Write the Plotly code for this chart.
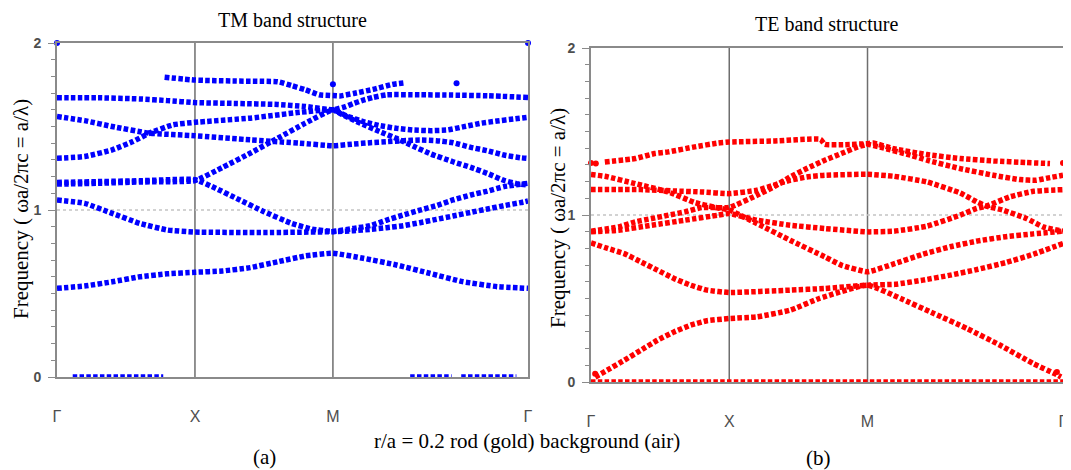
import plotly.graph_objects as go

# ---------------- k-path ----------------
KPATH_T = [0, 1, 2, 3.414]
KPATH_LABELS = ['Γ', 'X', 'M', 'Γ']

# ---------------- TM bands (left, blue) ----------------
tm_G_t = [0, 0.2, 0.4, 0.6, 0.8, 1.0, 1.2, 1.4, 1.6, 1.8, 2.0, 2.22, 2.46, 2.70, 2.94, 3.19, 3.414]
tm_G_f = [0.531, 0.545, 0.57, 0.60, 0.618, 0.627, 0.635, 0.655, 0.69, 0.725, 0.741, 0.711, 0.671, 0.621, 0.571, 0.541, 0.531]

tm_F_t = [0, 0.2, 0.4, 0.6, 0.8, 1.0, 1.5, 2.0, 2.15, 2.27, 2.39, 2.51, 2.63, 2.75, 2.87, 3.0, 3.12, 3.24, 3.36, 3.414]
tm_F_f = [1.06, 1.04, 0.98, 0.92, 0.88, 0.868, 0.865, 0.87, 0.876, 0.884, 0.894, 0.906, 0.924, 0.944, 0.964, 0.986, 1.006, 1.026, 1.044, 1.054]

tm_E2_t = [0, 0.3, 0.6, 1.0, 1.15, 1.3, 1.5, 1.7, 1.85, 2.0, 2.15, 2.27, 2.39, 2.51, 2.63, 2.75, 2.87, 3.0, 3.12, 3.24, 3.414]
tm_E2_f = [1.165, 1.17, 1.175, 1.182, 1.13, 1.07, 0.99, 0.92, 0.885, 0.872, 0.89, 0.906, 0.94, 0.97, 0.999, 1.026, 1.06, 1.09, 1.113, 1.14, 1.16]

tm_E1_t = [0, 0.3, 0.6, 1.0, 1.2, 1.4, 1.6, 1.8, 2.0, 2.05, 2.2, 2.34, 2.46, 2.58, 2.71, 2.87, 3.0, 3.12, 3.24, 3.33, 3.414]
tm_E1_f = [1.155, 1.16, 1.168, 1.176, 1.255, 1.34, 1.43, 1.52, 1.60, 1.579, 1.519, 1.469, 1.429, 1.383, 1.335, 1.289, 1.255, 1.219, 1.177, 1.158, 1.15]

tm_D_t = [0, 0.2, 0.4, 0.55, 0.67, 0.84, 1.0, 1.4, 1.76, 2.0, 2.1, 2.22, 2.34, 2.46, 2.58, 2.71, 2.83, 2.95, 3.07, 3.19, 3.31, 3.414]
tm_D_f = [1.31, 1.32, 1.36, 1.41, 1.46, 1.51, 1.525, 1.55, 1.585, 1.60, 1.563, 1.529, 1.505, 1.489, 1.479, 1.475, 1.479, 1.499, 1.519, 1.533, 1.545, 1.555]

tm_C_t = [0, 0.2, 0.4, 0.67, 1.0, 1.4, 1.76, 2.0, 2.15, 2.27, 2.39, 2.51, 2.63, 2.75, 2.87, 3.0, 3.12, 3.24, 3.36, 3.414]
tm_C_f = [1.56, 1.535, 1.50, 1.46, 1.445, 1.42, 1.40, 1.385, 1.395, 1.403, 1.409, 1.415, 1.419, 1.415, 1.403, 1.375, 1.355, 1.329, 1.313, 1.309]

tm_B_t = [0, 0.3, 0.6, 0.8, 1.0, 1.3, 1.6, 1.8, 2.0, 2.09, 2.15, 2.22, 2.29, 2.39, 2.63, 2.87, 3.12, 3.414]
tm_B_f = [1.672, 1.672, 1.665, 1.655, 1.643, 1.638, 1.632, 1.62, 1.60, 1.619, 1.638, 1.658, 1.674, 1.69, 1.69, 1.688, 1.684, 1.674]

tm_A_t = [0.78, 1.0, 1.3, 1.6, 1.7, 1.8, 1.9, 2.0, 2.05, 2.15, 2.29, 2.43, 2.52]
tm_A_f = [1.795, 1.778, 1.772, 1.768, 1.745, 1.72, 1.69, 1.685, 1.683, 1.698, 1.722, 1.752, 1.762]

tm_zero_segments = [(0.114, 0.77), (2.56, 2.86), (2.93, 3.33)]
tm_dots_t = [0, 3.414, 2.0, 2.896]
tm_dots_f = [2.0, 2.0, 1.753, 1.759]

# ---------------- TE bands (right, red) ----------------
te_T1_t = [0.1, 0.32, 0.46, 0.56, 0.75, 0.92, 1.0, 1.32, 1.66, 1.69, 1.83, 2.0, 2.04, 2.19, 2.43, 2.67, 2.91, 3.15, 3.32]
te_T1_f = [1.318, 1.338, 1.368, 1.378, 1.408, 1.431, 1.437, 1.443, 1.453, 1.423, 1.421, 1.427, 1.431, 1.397, 1.362, 1.338, 1.324, 1.314, 1.308]

te_T2_t = [0, 0.1, 0.32, 0.56, 0.75, 0.9, 1.0, 1.2, 1.44, 1.69, 1.81, 2.0, 2.2, 2.4, 2.6, 2.8, 3.0, 3.2, 3.414]
te_T2_f = [1.242, 1.232, 1.188, 1.138, 1.075, 1.045, 1.03, 0.949, 0.849, 0.75, 0.70, 0.66, 0.71, 0.765, 0.81, 0.845, 0.87, 0.887, 0.903]

te_T3_t = [0, 0.36, 0.6, 0.8, 1.0, 1.2, 1.32, 1.44, 1.56, 1.69, 2.0, 2.19, 2.43, 2.67, 2.79, 2.86, 2.98, 3.15, 3.27, 3.414]
te_T3_f = [1.152, 1.152, 1.144, 1.138, 1.128, 1.148, 1.178, 1.208, 1.228, 1.238, 1.244, 1.232, 1.198, 1.132, 1.079, 1.053, 1.029, 0.979, 0.929, 0.903]

te_A_t = [0, 0.2, 0.32, 0.44, 0.56, 0.68, 0.8, 1.0, 1.2, 1.32, 1.44, 1.56, 1.69, 1.81, 1.93, 2.0, 2.09, 2.31, 2.43, 2.67, 2.91, 3.10, 3.22, 3.32, 3.414]
te_A_f = [0.903, 0.929, 0.959, 0.979, 0.999, 1.019, 1.045, 1.045, 1.118, 1.168, 1.228, 1.278, 1.328, 1.368, 1.408, 1.423, 1.407, 1.358, 1.328, 1.278, 1.238, 1.212, 1.208, 1.224, 1.238]

te_B_t = [0, 0.2, 0.44, 0.68, 0.92, 1.0, 1.2, 1.44, 1.69, 2.0, 2.19, 2.43, 2.67, 2.79, 2.86, 3.03, 3.20, 3.414]
te_B_f = [0.899, 0.909, 0.939, 0.969, 0.999, 1.009, 0.969, 0.939, 0.919, 0.899, 0.903, 0.933, 0.999, 1.039, 1.053, 1.109, 1.142, 1.152]

te_b1_t = [0, 0.12, 0.24, 0.36, 0.48, 0.60, 0.72, 0.84, 1.0, 1.44, 1.69, 2.0, 2.2, 2.4, 2.6, 2.8, 3.0, 3.2, 3.414]
te_b1_f = [0.833, 0.80, 0.769, 0.72, 0.67, 0.62, 0.58, 0.55, 0.536, 0.55, 0.56, 0.58, 0.585, 0.61, 0.64, 0.675, 0.715, 0.765, 0.829]

te_ac_t = [0.03, 0.12, 0.24, 0.36, 0.48, 0.60, 0.72, 0.84, 1.0, 1.2, 1.44, 1.65, 2.0, 2.24, 2.48, 2.72, 2.96, 3.20, 3.35, 3.40]
te_ac_f = [0.03, 0.072, 0.13, 0.19, 0.25, 0.30, 0.34, 0.367, 0.38, 0.39, 0.43, 0.50, 0.58, 0.50, 0.41, 0.32, 0.22, 0.11, 0.052, 0.03]

te_zero_segments = [(0.0, 3.414)]
te_dots_t = [0, 0.035, 3.414, 0.03, 3.37]
te_dots_f = [1.312, 1.308, 1.312, 0.05, 0.06]

BLUE = 'rgb(0,0,255)'
RED = 'rgb(255,0,0)'
DASH = '4.5px,2.3px'

fig = go.Figure()


def add_band(t, f, color, xa, ya):
    fig.add_trace(go.Scatter(
        x=t, y=f, mode='lines', xaxis=xa, yaxis=ya, cliponaxis=False,
        line=dict(color=color, width=5.5, dash=DASH, shape='spline', smoothing=0.4),
        showlegend=False, hoverinfo='skip'))


def add_dots(t, f, color, xa, ya):
    fig.add_trace(go.Scatter(
        x=t, y=f, mode='markers', xaxis=xa, yaxis=ya, cliponaxis=False,
        marker=dict(color=color, size=6, line=dict(width=0)),
        showlegend=False, hoverinfo='skip'))


for t, f in [(tm_G_t, tm_G_f), (tm_F_t, tm_F_f), (tm_E2_t, tm_E2_f), (tm_E1_t, tm_E1_f),
             (tm_D_t, tm_D_f), (tm_C_t, tm_C_f), (tm_B_t, tm_B_f), (tm_A_t, tm_A_f)]:
    add_band(t, f, BLUE, 'x', 'y')
for a, b in tm_zero_segments:
    add_band([a, b], [0, 0], BLUE, 'x', 'y')
add_dots(tm_dots_t, tm_dots_f, BLUE, 'x', 'y')

for t, f in [(te_T1_t, te_T1_f), (te_T2_t, te_T2_f), (te_T3_t, te_T3_f), (te_A_t, te_A_f),
             (te_B_t, te_B_f), (te_b1_t, te_b1_f), (te_ac_t, te_ac_f)]:
    add_band(t, f, RED, 'x2', 'y2')
for a, b in te_zero_segments:
    add_band([a, b], [0, 0], RED, 'x2', 'y2')
add_dots(te_dots_t, te_dots_f, RED, 'x2', 'y2')

# page body has an 8px default margin: the figure is sized/positioned to compensate
OFF = 8
W, H = 1071 - OFF, 470 - OFF
FRAME = '#8a8a8a'
TICKCOL = '#4e4e4e'


def px(xp):
    return (xp - OFF) / W


def py(yp):
    return (H - (yp - OFF)) / H


def xaxis_cfg(x0, x1, anchor):
    return dict(domain=[px(x0), px(x1)], anchor=anchor, range=[0, KPATH_T[-1]],
                automargin=False,
                showgrid=False, zeroline=False, showline=True, mirror=True,
                linecolor=FRAME, linewidth=2, tickmode='array', tickvals=KPATH_T,
                ticktext=KPATH_LABELS, ticks='', ticklabelstandoff=24,
                ticklabeloverflow='allow',
                tickfont=dict(family='Liberation Sans, Arial', size=16, color=TICKCOL),
                fixedrange=True)


def yaxis_cfg(ytop, ybot, anchor):
    return dict(domain=[py(ybot), py(ytop)], anchor=anchor, range=[0, 2],
                automargin=False,
                showgrid=False, zeroline=False, showline=True, mirror=True,
                linecolor=FRAME, linewidth=2, tickmode='array', tickvals=[0, 1, 2],
                ticks='outside', ticklen=7, tickcolor=FRAME, tickwidth=1,
                minor=dict(dtick=0.1, ticks='outside', ticklen=4, tickcolor=FRAME, tickwidth=1),
                ticklabelstandoff=4,
                tickfont=dict(family='Liberation Sans, Arial', size=14, color=TICKCOL, weight='bold'),
                fixedrange=True)


fig.update_layout(
    width=W, height=H, margin=dict(l=0, r=0, t=0, b=0, autoexpand=False),
    paper_bgcolor='white', plot_bgcolor='white',
    xaxis=xaxis_cfg(57, 528, 'y'), yaxis=yaxis_cfg(43, 377, 'x'),
    xaxis2=xaxis_cfg(591, 1063, 'y2'), yaxis2=yaxis_cfg(48, 382, 'x2'),
)

shapes = []
for xr, yr in [('x', 'y'), ('x2', 'y2')]:
    for kx in KPATH_T[1:3]:
        shapes.append(dict(type='line', xref=xr, yref=yr, x0=kx, x1=kx, y0=0, y1=2,
                           line=dict(color='#6e6e6e', width=1.5), layer='below'))
    shapes.append(dict(type='line', xref=xr, yref=yr, x0=0, x1=KPATH_T[-1], y0=1, y1=1,
                       line=dict(color='#c4c4c4', width=1.5, dash='dot'), layer='below'))
fig.update_layout(shapes=shapes)

SERIF = 'Liberation Serif, Times New Roman'
ytitle = 'Frequency ( ωa/2πc = a/λ)'
ann = [
    dict(text='TM band structure', x=px(292), y=py(20), size=20),
    dict(text='TE band structure', x=px(826), y=py(24), size=20),
    dict(text=ytitle, x=px(21), y=py(209), textangle=-90),
    dict(text=ytitle, x=px(558), y=py(218), textangle=-90),
    dict(text='r/a = 0.2 rod (gold) background (air)', x=px(527), y=py(441)),
    dict(text='(a)', x=px(264), y=py(457)),
    dict(text='(b)', x=px(818), y=py(458)),
]
for a in ann:
    size = a.pop('size', 21)
    a.update(xref='paper', yref='paper', xanchor='center', yanchor='middle', showarrow=False,
             font=dict(family=SERIF, size=size, color='black'))
fig.update_layout(annotations=ann)

fig.write_html('out.html')
